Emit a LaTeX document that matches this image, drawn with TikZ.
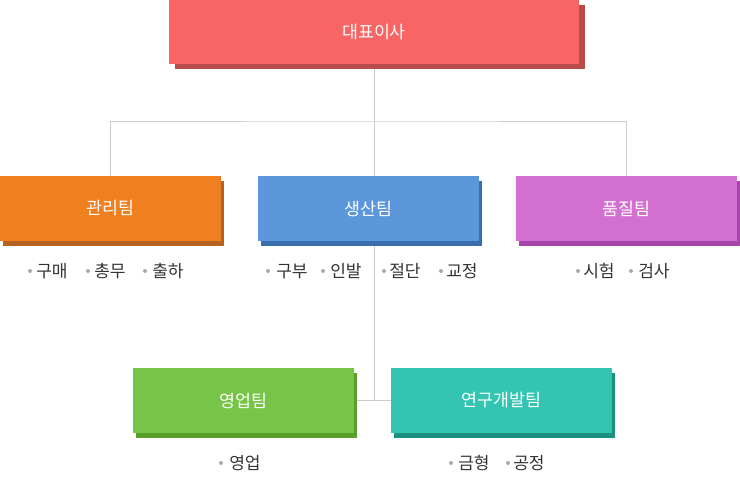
\documentclass[tikz,border=0pt]{standalone}
\usepackage{fontspec}
\setmainfont{Noto Sans CJK KR}
\usetikzlibrary{shadows,backgrounds}
\definecolor{ceored}{HTML}{F96464}
\definecolor{ceoshade}{HTML}{B84B4B}
\definecolor{mgmtorange}{HTML}{F07F1F}
\definecolor{mgmtshade}{HTML}{B5631F}
\definecolor{prodblue}{HTML}{5C97DB}
\definecolor{prodshade}{HTML}{3B6EAE}
\definecolor{qualpurple}{HTML}{D36FD1}
\definecolor{qualshade}{HTML}{A845A8}
\definecolor{salesgreen}{HTML}{77C548}
\definecolor{salesshade}{HTML}{5A9F2B}
\definecolor{rndteal}{HTML}{34C4B2}
\definecolor{rndshade}{HTML}{1A907F}
\definecolor{linegray}{HTML}{CCCCCC}
\definecolor{dutygray}{HTML}{333333}
\definecolor{dotgray}{HTML}{AAAAAA}
\begin{document}
\begin{tikzpicture}[x=.75pt, y=-.75pt,
	team/.style n args={3}{fill=#1, text=white, inner sep=0, outer sep=0,
		font=\fontsize{13}{15}\selectfont,
		minimum width=165.75pt, minimum height=48.75pt,
		drop shadow={shadow xshift=#3, shadow yshift=-3.75pt, fill=#2, opacity=1}},
	link/.style={draw=linegray, line width=.75pt},
	duty/.style={text=dutygray, anchor=west, inner sep=0, font=\fontsize{12.8}{15}\selectfont},
	dot/.style={fill=dotgray}]
	\useasboundingbox (0,0) rectangle (740,480);
	% boxes
	\node [team={ceored}{ceoshade}{4.5pt}, minimum width=307.5pt, minimum height=48pt] (ceo) at (374,32) {대표이사};
	\node [team={mgmtorange}{mgmtshade}{2.25pt}] (mgmt) at (110.5,208.5) {관리팀};
	\node [team={prodblue}{prodshade}{2.25pt}] (prod) at (368.5,208.5) {생산팀};
	\node [team={qualpurple}{qualshade}{2.25pt}] (qual) at (626.5,208.5) {품질팀};
	\node [team={salesgreen}{salesshade}{2.25pt}] (sales) at (243.5,400.5) {영업팀};
	\node [team={rndteal}{rndshade}{2.25pt}] (rnd) at (501.5,400.5) {연구개발팀};
	% connectors
	\coordinate (bus) at (374,121);
	\begin{scope}[on background layer]
		\draw [link] (ceo.south) -- (ceo.south |- sales.east);
		\draw [link] (sales.east) -- (rnd.west);
		\draw [link] (mgmt.north) |- (bus) -| (qual.north);
	\end{scope}
	% duties
	\foreach \bx/\tx/\row/\word [count=\i] in {30/36/271/구매, 88/94/271/총무, 145/152/271/출하,
		268/276/271/구부, 323/330/271/인발, 384/389/271/절단, 441/446/271/교정,
		578/583/271/시험, 631/638/271/검사,
		221/229/463/영업, 451/458/463/금형, 508/513/463/공정}
	{
		\fill [dot] (\bx,\row) circle [radius=2];
		\node [duty] (duty\i) at (\tx,\row) {\word};
	}
\end{tikzpicture}
\end{document}
